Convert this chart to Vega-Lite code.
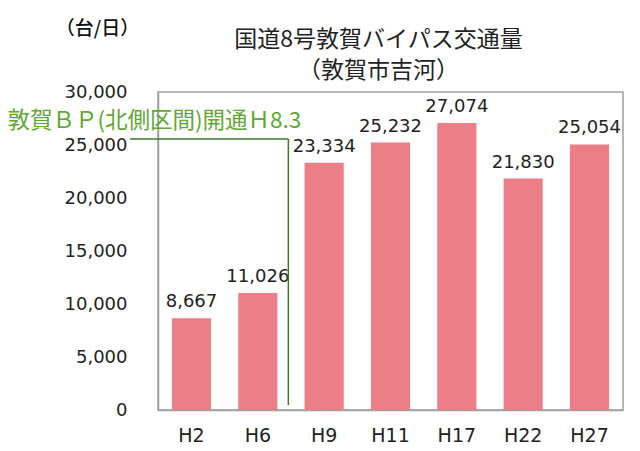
{
  "$schema": "https://vega.github.io/schema/vega-lite/v6.json",
  "width": 465,
  "height": 318,
  "autosize": {"type": "none"},
  "padding": {"left": 158, "top": 92, "right": 17, "bottom": 41},
  "background": "white",
  "title": {
    "text": "国道8号敦賀バイパス交通量",
    "subtitle": "（敦賀市吉河）",
    "font": "Noto Sans CJK JP",
    "fontSize": 23,
    "fontWeight": "normal",
    "color": "#222222",
    "subtitleFont": "Noto Sans CJK JP",
    "subtitleFontSize": 23,
    "subtitleFontWeight": "normal",
    "subtitleColor": "#222222",
    "subtitlePadding": 8,
    "anchor": "middle",
    "frame": "group",
    "offset": 0,
    "dx": -12,
    "dy": 64
  },
  "config": {
    "view": {"stroke": "#a0a0a0", "strokeWidth": 1.5},
    "axis": {"grid": false, "ticks": false, "domainColor": "#a0a0a0", "domainWidth": 1.5, "labelColor": "#222222", "labelFont": "DejaVu Sans"},
    "axisX": {"title": null, "labelAngle": 0, "labelFontSize": 19, "labelPadding": 16},
    "axisY": {"titleFont": "Noto Sans CJK JP", "titleFontSize": 19, "titleFontWeight": 500, "titleColor": "#111111", "titleAngle": 0, "titleAlign": "center", "titleBaseline": "middle", "titleX": -61, "titleY": -64, "labelFontSize": 18, "labelPadding": 31, "format": ",.0f"}
  },
  "datasets": {
    "bars": [
      {"year": "H2", "traffic": 8667},
      {"year": "H6", "traffic": 11026},
      {"year": "H9", "traffic": 23334},
      {"year": "H11", "traffic": 25232},
      {"year": "H17", "traffic": 27074},
      {"year": "H22", "traffic": 21830},
      {"year": "H27", "traffic": 25054}
    ],
    "hline": [{"from": "H2", "to": "H6", "level": 25566}],
    "vline": [{"at": "H6", "top": 25566, "bottom": 470}],
    "note": [{"at": "H6", "level": 27264, "label": "敦賀ＢＰ(北側区間)開通Ｈ8.3"}]
  },
  "layer": [
    {
      "data": {"name": "bars"},
      "mark": {"type": "bar", "color": "#ec7e88"},
      "encoding": {
        "x": {
          "field": "year", "type": "nominal", "sort": null, "title": null,
          "scale": {"paddingInner": 0.41, "paddingOuter": 0.21}
        },
        "y": {
          "field": "traffic", "type": "quantitative", "title": "（台/日）",
          "scale": {"domain": [0, 30000], "nice": false},
          "axis": {"values": [0, 5000, 10000, 15000, 20000, 25000, 30000]}
        }
      }
    },
    {
      "data": {"name": "bars"},
      "mark": {"type": "text", "font": "DejaVu Sans", "fontSize": 18, "color": "#222222", "baseline": "alphabetic", "dy": -11},
      "encoding": {
        "x": {"field": "year", "type": "nominal", "sort": null, "title": null},
        "y": {"field": "traffic", "type": "quantitative", "title": "（台/日）"},
        "text": {"field": "traffic", "type": "quantitative", "format": ",.0f"}
      }
    },
    {
      "data": {"name": "hline"},
      "mark": {"type": "rule", "color": "#3d7a25", "strokeWidth": 1.5},
      "encoding": {
        "x": {"field": "from", "type": "nominal", "sort": null, "bandPosition": -1.07, "title": null},
        "x2": {"field": "to", "bandPosition": 1.28},
        "y": {"field": "level", "type": "quantitative", "title": "（台/日）"}
      }
    },
    {
      "data": {"name": "vline"},
      "mark": {"type": "rule", "color": "#3d7a25", "strokeWidth": 1.5},
      "encoding": {
        "x": {"field": "at", "type": "nominal", "sort": null, "bandPosition": 1.28, "title": null},
        "y": {"field": "top", "type": "quantitative", "title": "（台/日）"},
        "y2": {"field": "bottom"}
      }
    },
    {
      "data": {"name": "note"},
      "mark": {"type": "text", "font": "Noto Sans CJK JP", "fontSize": 22.5, "color": "#5fa832", "align": "right", "baseline": "middle", "dx": 13},
      "encoding": {
        "x": {"field": "at", "type": "nominal", "sort": null, "bandPosition": 1.28, "title": null},
        "y": {"field": "level", "type": "quantitative", "title": "（台/日）"},
        "text": {"field": "label"}
      }
    }
  ]
}
